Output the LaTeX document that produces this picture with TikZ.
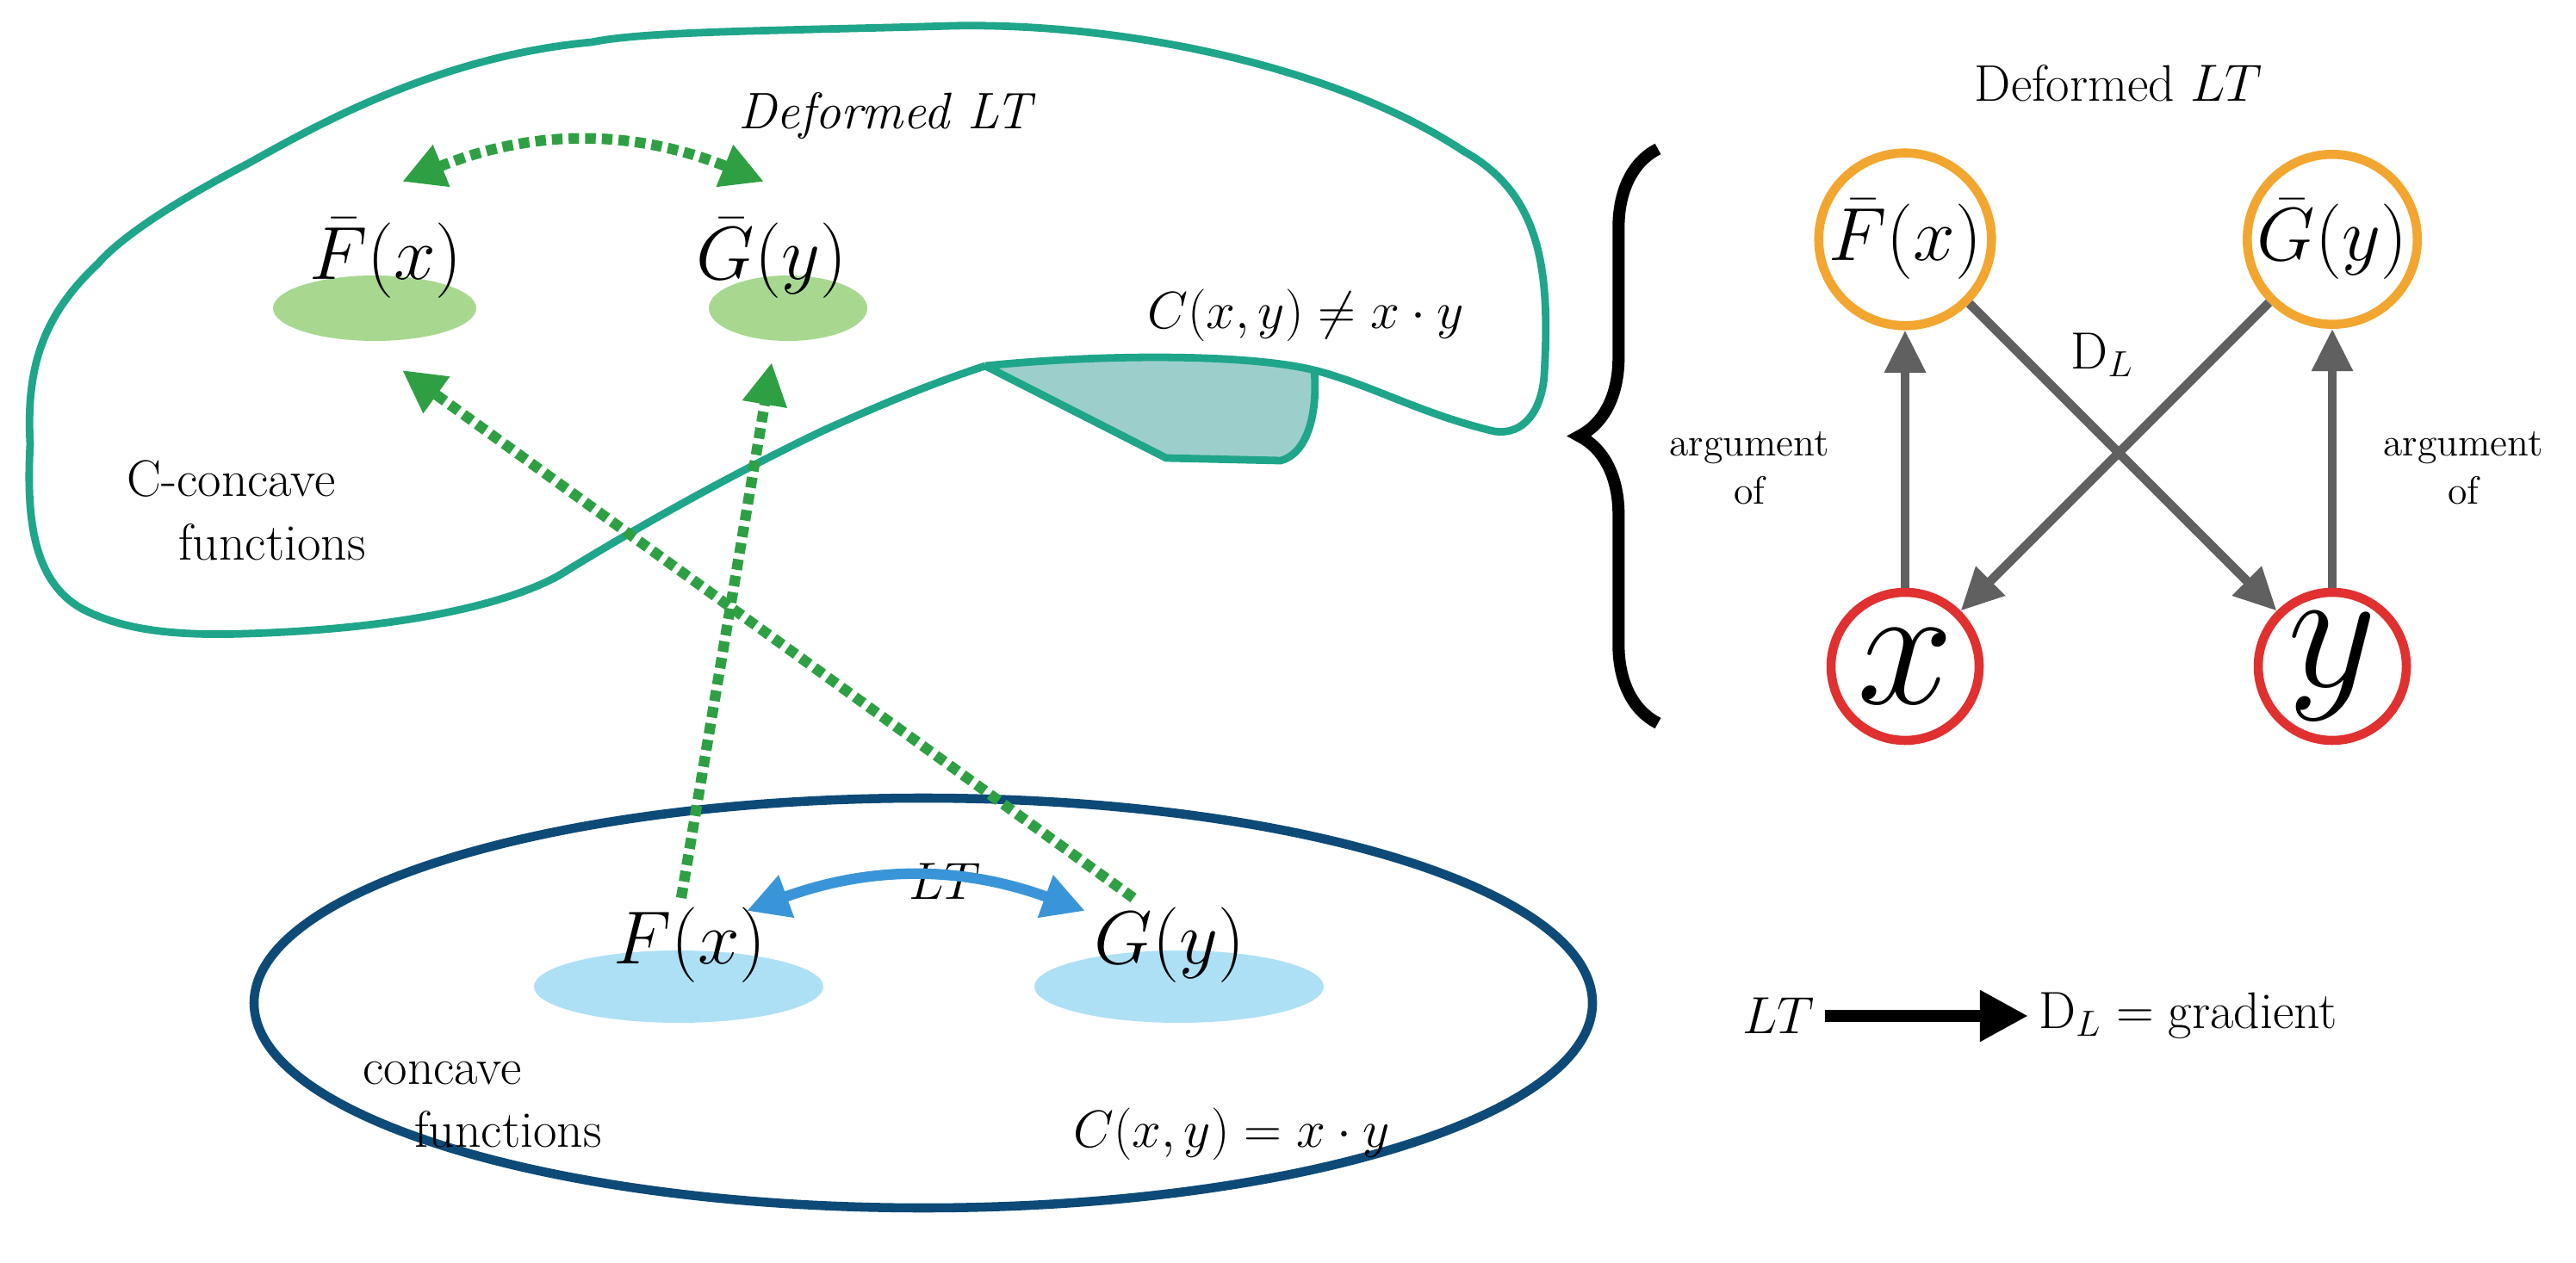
\documentclass[tikz,border=0pt]{standalone}
\usepackage{amsmath}
\usetikzlibrary{arrows.meta,decorations.pathreplacing}
\definecolor{teal1}{HTML}{1FA58A}
\definecolor{tealfill}{HTML}{9CCFCC}
\definecolor{greenfill}{HTML}{A8D88F}
\definecolor{greenarr}{HTML}{2EA043}
\definecolor{navy}{HTML}{0D4A78}
\definecolor{bluefill}{HTML}{AEE0F5}
\definecolor{bluearr}{HTML}{3A95D8}
\definecolor{orng}{HTML}{F2A630}
\definecolor{redc}{HTML}{E03030}
\definecolor{grayarr}{HTML}{606060}
\tikzset{
  big/.style={font=\fontsize{24}{28}\selectfont},
  lbl/.style={font=\fontsize{17}{21}\selectfont, align=center},
  small/.style={font=\fontsize{13}{16}\selectfont, align=center},
  dotarr/.style={greenarr, line width=3.5pt, dotted, -{Triangle[length=14pt,width=14pt,fill=greenarr]}},
  gray arr/.style={grayarr, line width=3pt, -{Triangle[length=14pt,width=13pt]}},
  ring/.style={circle, line width=3pt, minimum size=1.83cm, inner sep=0pt, fill=white},
}
\begin{document}
\begin{tikzpicture}
  \useasboundingbox (0,0) rectangle (29.91,14.66);
  % C-concave region
  \fill[tealfill] (11.44,10.41) .. controls (12.8,10.55) and (14.5,10.55) .. (15.26,10.36)
    .. controls (15.3,9.9) and (15.2,9.4) .. (14.87,9.31) -- (13.54,9.34) -- cycle;
  \draw[teal1, line width=2.5pt] (11.44,10.41) -- (13.54,9.34) -- (14.87,9.31)
    .. controls (15.2,9.4) and (15.3,9.9) .. (15.26,10.36);
  \draw[teal1, line width=2.5pt] (11.44,10.41)
    .. controls (12.8,10.55) and (14.5,10.55) .. (15.26,10.36)
    .. controls (15.9,10.2) and (16.5,9.85) .. (17.35,9.65)
    .. controls (17.7,9.6) and (17.9,9.9) .. (17.93,10.3)
    .. controls (18.0,11.5) and (17.9,12.4) .. (17.0,12.9)
    .. controls (15.5,13.9) and (13,14.4) .. (11.06,14.36)
    .. controls (9,14.3) and (7.5,14.3) .. (6.87,14.17)
    .. controls (5,14) and (3.5,13.1) .. (2.86,12.75)
    .. controls (2,12.3) and (1.4,11.9) .. (1.14,11.6)
    .. controls (0.5,11) and (0.3,10.4) .. (0.35,9.5)
    .. controls (0.3,8.6) and (0.4,7.9) .. (0.95,7.59)
    .. controls (1.5,7.3) and (2.2,7.28) .. (2.86,7.3)
    .. controls (4.5,7.35) and (5.8,7.6) .. (6.48,7.97)
    .. controls (7.5,8.6) and (8.6,9.2) .. (9.54,9.65)
    .. controls (10.2,9.95) and (10.8,10.2) .. (11.44,10.41);
  \fill[greenfill] (4.35,11.08) ellipse (1.18 and 0.38);
  \fill[greenfill] (9.15,11.08) ellipse (0.92 and 0.38);
  \node[big] (Fb) at (4.48,11.66) {$\bar{F}(x)$};
  \node[big] (Gb) at (8.96,11.66) {$\bar{G}(y)$};
  \node[lbl] (dlt) at (10.3,13.31) {\textit{Deformed LT}};
  \node[lbl] (cne) at (15.16,11.0) {$C(x,y)\neq x\cdot y$};
  \node[lbl, align=left] (cc) at (2.86,8.73) {C-concave\\ \quad functions};
  \coordinate (fbt) at (4.67,12.55);
  \coordinate (gbt) at (8.87,12.55);
  \coordinate (fbb) at (4.67,10.36);
  \coordinate (gbb) at (8.96,10.45);
  % concave region
  \draw[navy, line width=3pt] (10.72,3.01) ellipse (7.77 and 2.38);
  \fill[bluefill] (7.88,3.2) ellipse (1.68 and 0.42);
  \fill[bluefill] (13.69,3.2) ellipse (1.68 and 0.42);
  \node[big] (F) at (8.01,3.68) {$F(x)$};
  \node[big] (G) at (13.58,3.68) {$G(y)$};
  \node[lbl] (lt) at (10.97,4.42) {$LT$};
  \node[lbl, align=left] (cf) at (5.6,1.83) {concave\\ \quad functions};
  \node[lbl] (ceq) at (14.3,1.49) {$C(x,y)=x\cdot y$};
  \coordinate (fs) at (7.91,4.23);
  \coordinate (gs) at (13.16,4.23);
  % arrows
  \draw[dotarr, {Triangle[length=14pt,width=14pt,fill=greenarr]}-{Triangle[length=14pt,width=14pt,fill=greenarr]}]
    (fbt) to[bend left=22] (gbt);
  \draw[bluearr, line width=3.5pt, {Triangle[length=14pt,width=14pt]}-{Triangle[length=14pt,width=14pt]}]
    (8.67,4.08) coordinate (fa) to[bend left=20] (12.6,4.08) coordinate (ga);
  \draw[dotarr] (fs) -- (gbb);
  \draw[dotarr] (gs) -- (fbb);
  % right diagram
  \draw[decorate, decoration={brace, amplitude=26pt}, line width=4pt] (19.25,6.26) -- (19.25,12.93);
  \node[lbl] (dlt2) at (24.6,13.69) {Deformed $LT$};
  \node[ring, draw=orng] (cF) at (22.12,11.88) {\fontsize{24}{28}\selectfont$\bar{F}(x)$};
  \node[ring, draw=orng] (cG) at (27.08,11.88) {\fontsize{24}{28}\selectfont$\bar{G}(y)$};
  \node[ring, draw=redc, minimum size=1.72cm] (cx) at (22.12,6.92) {\scalebox{2.3}{\fontsize{24}{28}\selectfont$x$}};
  \node[ring, draw=redc, minimum size=1.72cm] (cy) at (27.08,6.92) {\scalebox{2.3}{\fontsize{24}{28}\selectfont$y$}};
  \draw[gray arr] (cx) -- (cF);
  \draw[gray arr] (cy) -- (cG);
  \draw[gray arr] (cF) -- (cy);
  \draw[gray arr] (cG) -- (cx);
  \node[lbl] (dl) at (24.41,10.54) {$\mathrm{D}_L$};
  \node[small] (arg1) at (20.31,9.22) {argument\\of};
  \node[small] (arg2) at (28.6,9.22) {argument\\of};
  % legend
  \node[lbl] (lt2) at (20.65,2.86) {$LT$};
  \node[lbl, anchor=west] (grad) at (23.55,2.86) {$\mathrm{D}_L=\text{gradient}$};
  \draw[line width=4pt, -{Triangle[length=16pt,width=16pt]}] (lt2) -- (grad);
\end{tikzpicture}
\end{document}
